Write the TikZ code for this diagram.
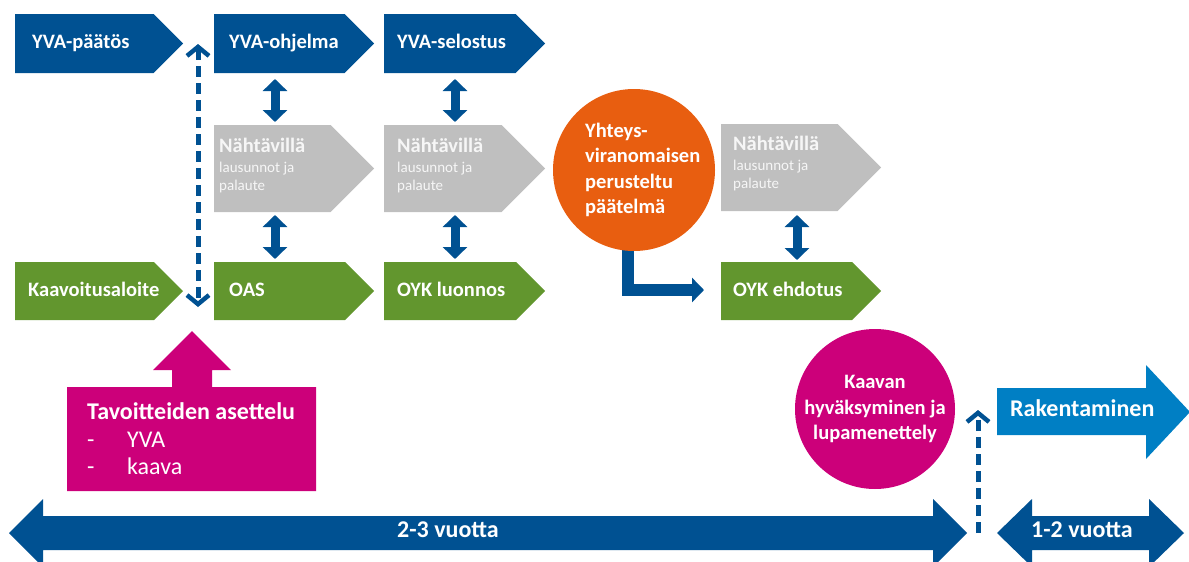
\documentclass[tikz,border=0pt]{standalone}
\usepackage{fontspec}
\setmainfont{Carlito}
\usetikzlibrary{arrows.meta,calc}
\definecolor{dblue}{RGB}{0,81,146}
\definecolor{lblue}{RGB}{0,127,196}
\definecolor{vgreen}{RGB}{98,150,46}
\definecolor{lgrey}{RGB}{191,191,191}
\definecolor{vorange}{RGB}{232,94,16}
\definecolor{vpink}{RGB}{204,0,122}
\definecolor{gtext}{RGB}{246,246,246}
\newcommand\fntB{\bfseries\fontsize{20.5}{25.5}\selectfont}
\newcommand\fntS{\fontsize{15}{18}\selectfont}
\newcommand\fntL{\bfseries\fontsize{24}{28}\selectfont}
\newcommand\fntLr{\fontsize{24}{28}\selectfont}
\newcommand\chevshape[6]{%
  \fill[#6] (#2,#3) -- ({#4-(#5-#3)/2},#3) -- (#4,{(#3+#5)/2}) -- ({#4-(#5-#3)/2},#5) -- (#2,#5) -- cycle;
  \node[inner sep=0pt, outer sep=0pt, minimum width={(#4-#2)*1pt}, minimum height={(#5-#3)*1pt}] (#1) at ({(#2+#4)/2},{(#3+#5)/2}) {};
}
\begin{document}
\begin{tikzpicture}[x=1pt,y=-1pt,
  wt/.style={anchor=base west, inner sep=0pt, text=white, font=\fntB},
  gh/.style={anchor=base west, inner sep=0pt, text=gtext, font=\fntB},
  gs/.style={anchor=base west, inner sep=0pt, text=gtext, font=\fntS},
  dbl/.style={draw=dblue, line width=9pt, {Triangle[length=12pt,width=24pt]}-{Triangle[length=12pt,width=24pt]}},
  dsh/.style={draw=dblue, line width=5pt, dash pattern=on 11pt off 6pt},
  barb/.tip={Straight Barb[length=9pt,width=22pt,line width=4.5pt]},
  bigarrow/.style={fill=dblue}
]
\useasboundingbox (0,0) rectangle (1189,562);
\clip (0,0) rectangle (1189,562);

% chevron boxes
\chevshape{ypaatos}{15}{14}{183}{73}{dblue}
\chevshape{yohj}{214}{14}{374}{73}{dblue}
\chevshape{ysel}{384}{14}{545}{73}{dblue}
\chevshape{nah1}{214}{125}{374}{212}{lgrey}
\chevshape{nah2}{384}{125}{545}{212}{lgrey}
\chevshape{nah3}{721}{124}{881}{211}{lgrey}
\chevshape{kaav}{15}{262}{183}{320}{vgreen}
\chevshape{oas}{214}{262}{374}{320}{vgreen}
\chevshape{oykl}{384}{262}{545}{320}{vgreen}
\chevshape{oyke}{721}{262}{881}{320}{vgreen}

% texts in boxes
\node[wt] (t-ypaatos) at (32,48.5) {YVA-päätös};
\node[wt] (t-yohj) at (229,48.5) {YVA-ohjelma};
\node[wt] (t-ysel) at (397,48.5) {YVA-selostus};
\node[wt] (t-kaav) at (28,296) {Kaavoitusaloite};
\node[wt] (t-oas) at (229,296) {OAS};
\node[wt] (t-oykl) at (397,296) {OYK luonnos};
\node[wt] (t-oyke) at (733,296) {OYK ehdotus};

\node[gh] (t-nah1) at (219,152) {Nähtävillä};
\node[gs] (t-nah1a) at (219,172) {lausunnot ja};
\node[gs] (t-nah1b) at (219,190) {palaute};
\node[gh] (t-nah2) at (397,152) {Nähtävillä};
\node[gs] (t-nah2a) at (397,172) {lausunnot ja};
\node[gs] (t-nah2b) at (397,190) {palaute};
\node[gh] (t-nah3) at (733,150) {Nähtävillä};
\node[gs] (t-nah3a) at (733,170) {lausunnot ja};
\node[gs] (t-nah3b) at (733,188) {palaute};

% vertical double arrows
\coordinate (x1) at (275,0);
\coordinate (x2) at (455,0);
\coordinate (x3) at (797,0);
\draw[dbl, shorten <=6pt, shorten >=3pt] (yohj.south -| x1) -- (nah1.north -| x1);
\draw[dbl, shorten <=3pt, shorten >=3pt] (nah1.south -| x1) -- (oas.north -| x1);
\draw[dbl, shorten <=6pt, shorten >=3pt] (ysel.south -| x2) -- (nah2.north -| x2);
\draw[dbl, shorten <=3pt, shorten >=3pt] (nah2.south -| x2) -- (oykl.north -| x2);
\draw[dbl, shorten <=4pt, shorten >=2pt] (nah3.south -| x3) -- (oyke.north -| x3);

% dashed arrow between YVA-paatos and Kaavoitusaloite
\coordinate (dtop) at (198,44);
\coordinate (dbot) at (198,307);
\draw[dsh, barb-barb] (dtop) -- (dbot);

% L arrow from orange circle to OYK ehdotus
\coordinate (lend) at (704,290);
\draw[dblue, line width=12pt, -{Triangle[length=12pt,width=24pt]}] (628,240) |- (lend);

% orange circle
\node[circle, fill=vorange, minimum size=162pt, inner sep=0pt] (orng) at (634,170) {};
\node[anchor=west, inner sep=0pt, align=left, text=white, font=\fntB] (t-orng) at (585,170)
  {Yhteys-\\viranomaisen\\perusteltu\\päätelmä};

% pink box with up arrow
\fill[vpink] (67,387) -- (172,387) -- (172,370) -- (153,370) -- (192,331) -- (231,370)
  -- (212,370) -- (212,387) -- (316,387) -- (316,491) -- (67,491) -- cycle;
\node[anchor=base west, inner sep=0pt, text=white, font=\fntL] (t-tav) at (87,419) {Tavoitteiden asettelu};
\node[anchor=base west, inner sep=0pt, text=white, font=\fntLr] (t-d1) at (87,447) {-};
\node[anchor=base west, inner sep=0pt, text=white, font=\fntLr] (t-yva) at (127,447) {YVA};
\node[anchor=base west, inner sep=0pt, text=white, font=\fntLr] (t-d2) at (87,474) {-};
\node[anchor=base west, inner sep=0pt, text=white, font=\fntLr] (t-kaava) at (127,474) {kaava};

% pink circle
\node[circle, fill=vpink, minimum size=160pt, inner sep=0pt, align=center, text=white, font=\fntB] (kaavan) at (875,409)
  {Kaavan\\hyväksyminen ja\\lupamenettely};

% dashed arrow up to Rakentaminen level
\coordinate (d2bot) at (978,533);
\coordinate (d2top) at (978,410);
\draw[dsh, -barb] (d2bot) -- (d2top);

% Rakentaminen arrow
\fill[lblue] (997,388) -- (1146,388) -- (1146,365) -- (1190,412) -- (1146,459) -- (1146,435) -- (997,435) -- cycle;
\node[anchor=base west, inner sep=0pt, text=white, font=\fntL] (t-rak) at (1010,416) {Rakentaminen};

% bottom double arrows
\fill[dblue] (9,533) -- (43,499) -- (43,516) -- (933,516) -- (933,499) -- (967,533) -- (933,567)
  -- (933,550) -- (43,550) -- (43,567) -- cycle;
\node[anchor=base, inner sep=0pt, text=white, font=\fntL] (t-23) at (448,537) {2-3 vuotta};
\fill[dblue] (997,533) -- (1032,499) -- (1032,516) -- (1149,516) -- (1149,499) -- (1184,533) -- (1149,567)
  -- (1149,550) -- (1032,550) -- (1032,567) -- cycle;
\node[anchor=base, inner sep=0pt, text=white, font=\fntL] (t-12) at (1082,537) {1-2 vuotta};
\end{tikzpicture}
\end{document}
